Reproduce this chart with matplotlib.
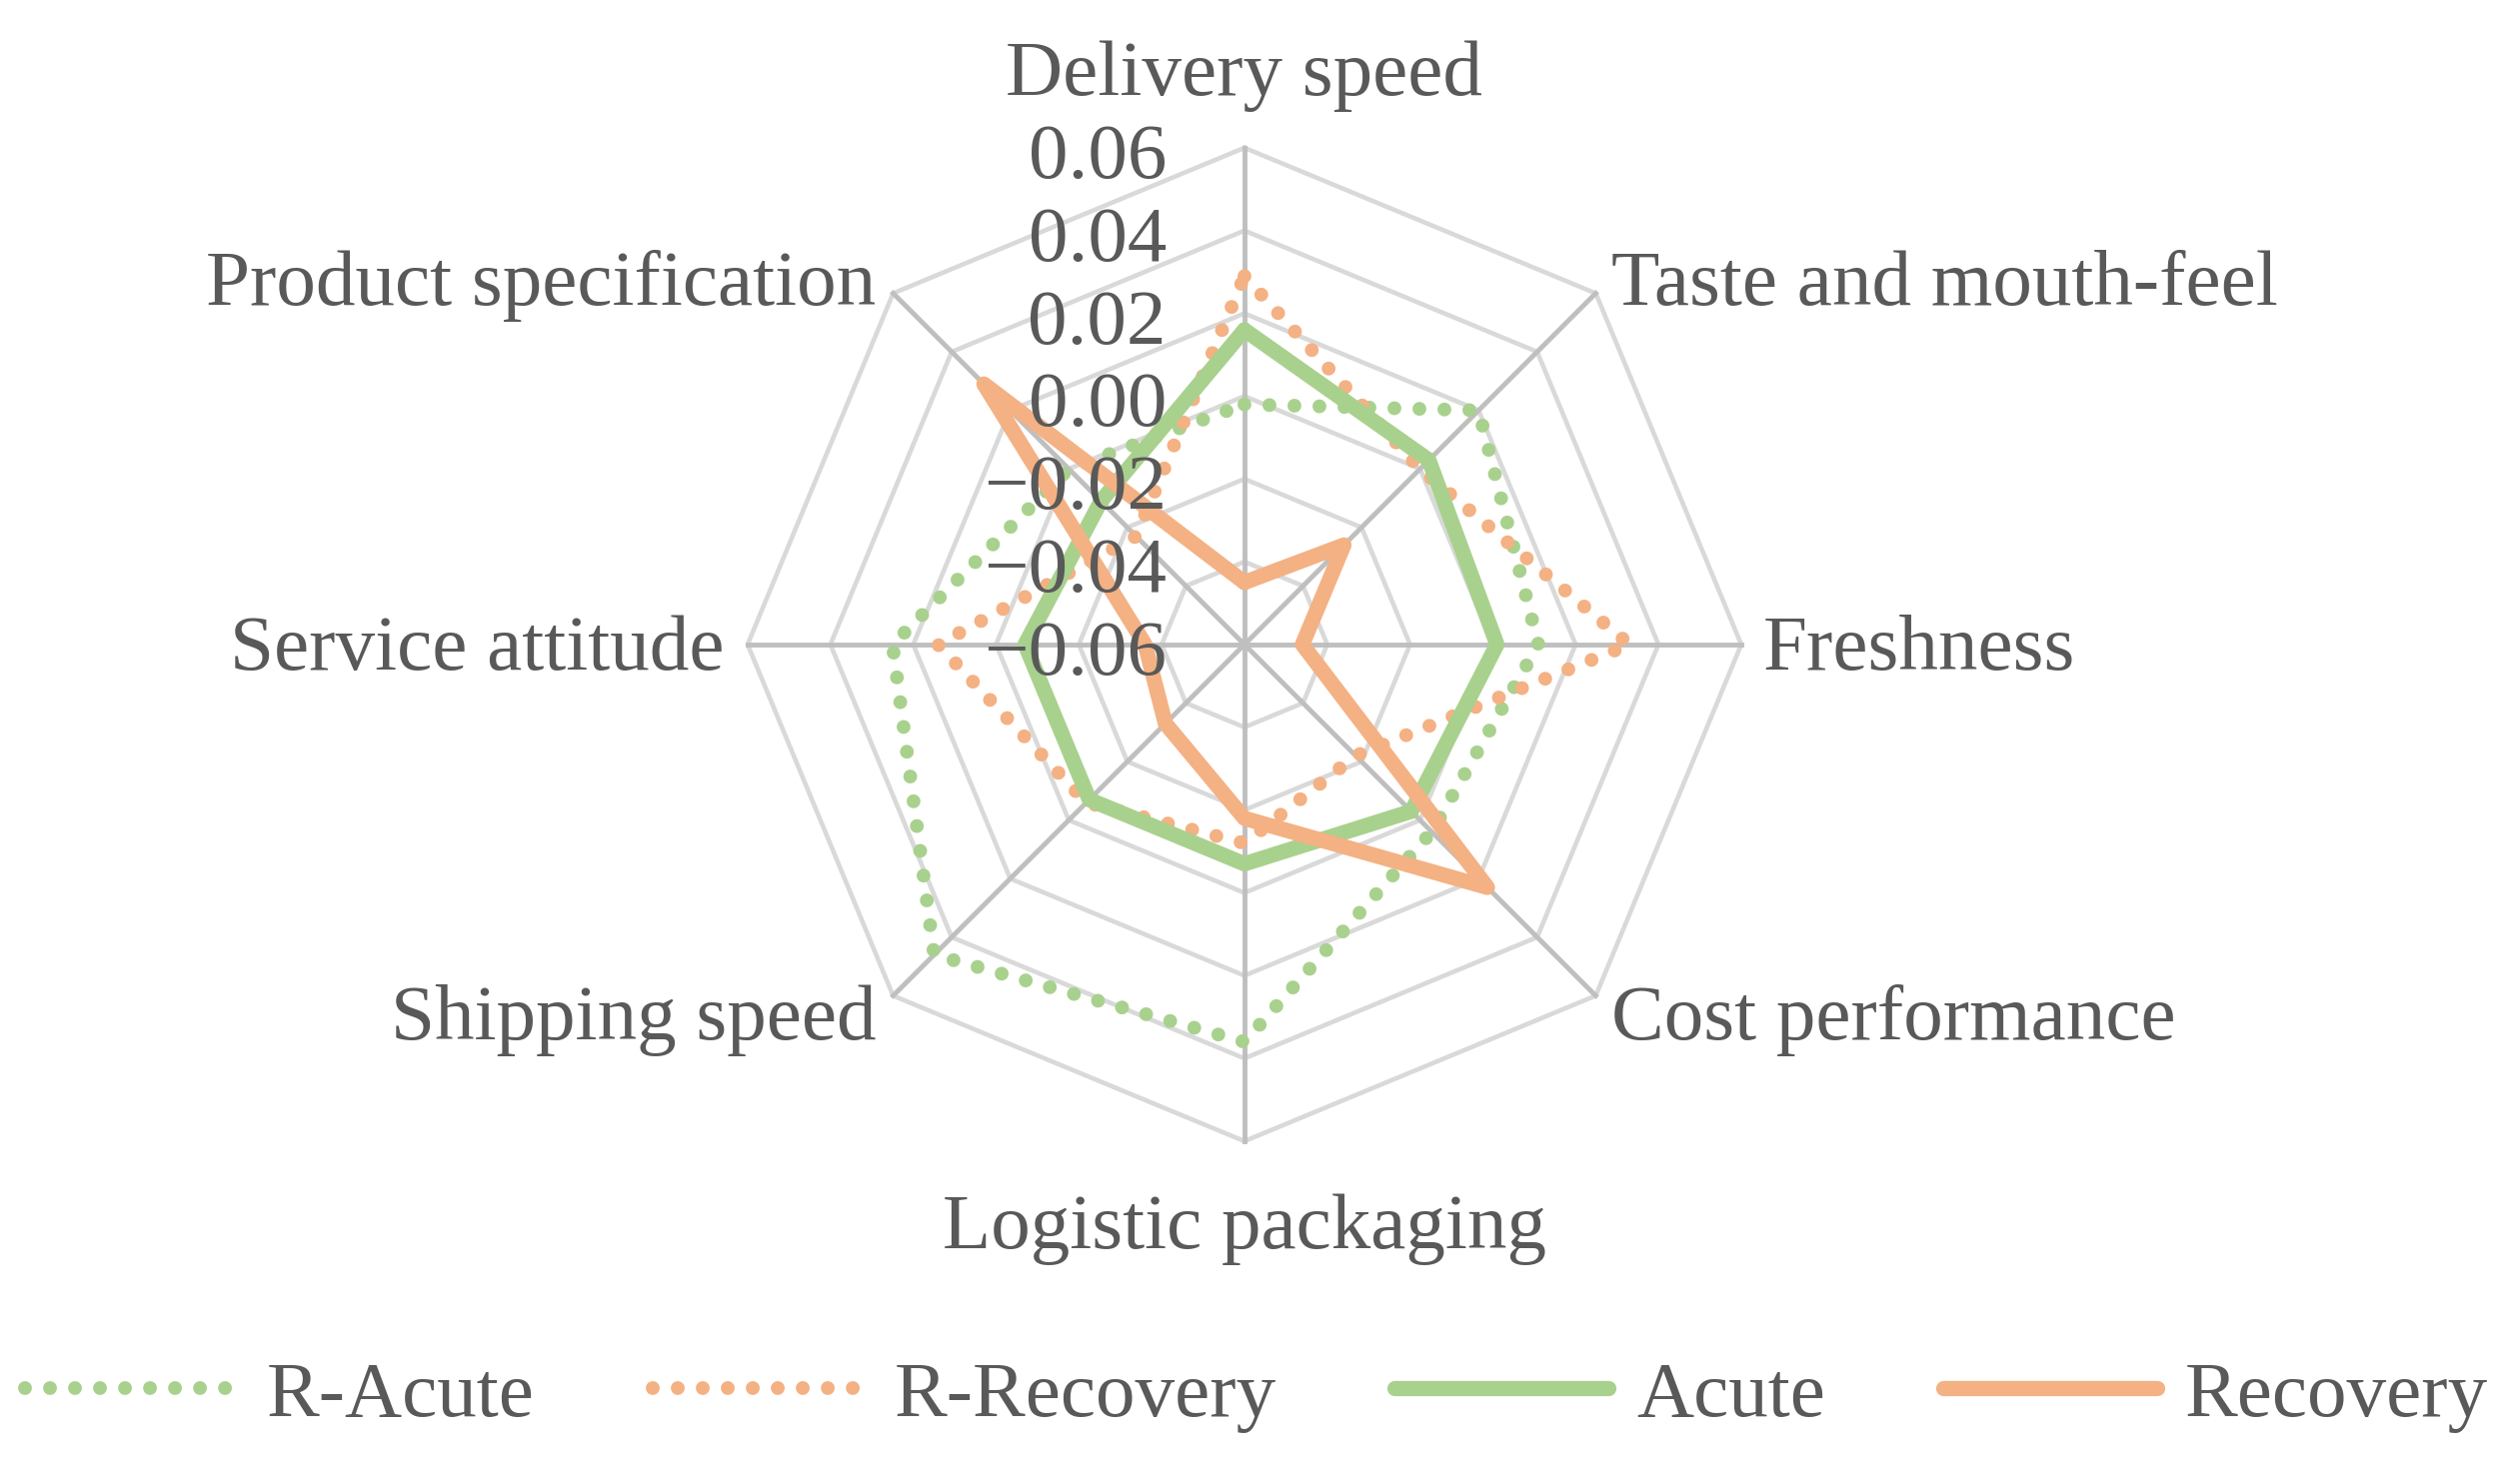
import numpy as np
import matplotlib
matplotlib.use('Agg')
import matplotlib.pyplot as plt
from matplotlib.transforms import offset_copy

plt.rcParams['font.family'] = ['Liberation Serif', 'DejaVu Serif']

categories = ['Delivery speed', 'Taste and mouth-feel', 'Freshness', 'Cost performance',
              'Logistic packaging', 'Shipping speed', 'Service attitude', 'Product specification']
r_acute = [-0.002, 0.020, 0.011, 0.004, 0.036, 0.046, 0.025, 0.000]
r_recovery = [0.029, 0.000, 0.033, -0.022, -0.012, -0.006, 0.014, -0.023]
acute = [0.016, 0.003, 0.001, -0.003, -0.007, -0.007, -0.007, -0.011]
recovery = [-0.045, -0.026, -0.046, 0.023, -0.018, -0.033, -0.036, 0.029]
levels = [-0.06, -0.04, -0.02, 0.00, 0.02, 0.04, 0.06]
level_labels = ['\u22120.06', '\u22120.04', '\u22120.02', '0.00', '0.02', '0.04', '0.06']

green = '#A9D18E'
orange = '#F4B183'
txt = '#595959'
fs = 57

n = len(categories)
ang = np.arange(n) * 2 * np.pi / n
ang_c = np.append(ang, ang[0])

fig = plt.figure(figsize=(25.14, 14.85), dpi=100)
ax = fig.add_axes([0.2975, 0.2310, 0.3954, 0.6694], projection='polar')
ax.set_theta_offset(np.pi / 2)
ax.set_theta_direction(-1)
ax.set_ylim(-0.06, 0.06)
ax.grid(False)
ax.set_xticks([])
ax.set_yticks([])
ax.spines['polar'].set_visible(False)

# octagon grid + spokes
for lv in levels[1:]:
    ax.plot(ang_c, [lv] * (n + 1), color='#D9D9D9', lw=3.3, zorder=1, clip_on=False)
for a in ang:
    ax.plot([a, a], [levels[0], levels[-1]], color='#BFBFBF', lw=3.5, zorder=1.5, clip_on=False)

dot = (0, (0.001, 1.8))
series = [(r_acute, green, dot, 'R-Acute'),
          (r_recovery, orange, dot, 'R-Recovery'),
          (acute, green, '-', 'Acute'),
          (recovery, orange, '-', 'Recovery')]
for i, (vals, col, ls, lab) in enumerate(series):
    v = np.append(vals, vals[0])
    if ls == '-':
        ax.plot(ang_c, v, color=col, lw=11, ls=ls, label=lab, zorder=3 + i,
                solid_joinstyle='round', solid_capstyle='round', clip_on=False)
    else:
        ax.plot(ang_c, v, color=col, lw=10, ls=ls, label=lab, zorder=3 + i,
                dash_capstyle='round', clip_on=False)

# radial tick labels along the top spoke
for lv, lab in zip(levels, level_labels):
    tr = offset_copy(ax.transData, fig=fig, x=-78, y=-30, units='dots')
    ax.text(0, lv, lab, transform=tr, ha='right', va='baseline', fontsize=fs, color=txt, zorder=10)

# category labels: (dx, dy, ha) offsets in pixels from outer vertex
label_pos = [(0, 53, 'center'), (16, -12, 'left'), (22, -25, 'left'), (16, -44, 'left'),
             (0, -107, 'center'), (-17, -44, 'right'), (-23, -25, 'right'), (-17, -12, 'right')]
for a, cat, (dx, dy, ha) in zip(ang, categories, label_pos):
    tr = offset_copy(ax.transData, fig=fig, x=dx, y=dy, units='dots')
    ax.text(a, 0.06, cat, transform=tr, ha=ha, va='baseline', fontsize=fs, color=txt)

fig.legend(loc='center', bbox_to_anchor=(0.5, 0.0586), ncol=4, frameon=False,
           fontsize=fs, labelcolor=txt, handlelength=2.7, handletextpad=0.35,
           columnspacing=1.5)

fig.savefig('out.png', dpi=100)
